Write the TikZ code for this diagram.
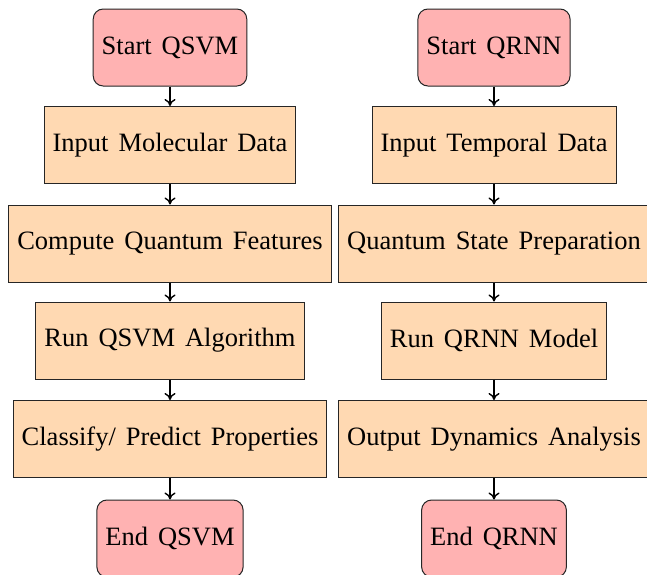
\documentclass[tikz,border=0pt]{standalone}
\usepackage{fontspec}
\setmainfont{Liberation Serif}[WordSpace=1.5]
\usetikzlibrary{arrows.meta}
\tikzset{
  termbox/.style={draw=black!85, line width=1pt, fill=red!30, rounded corners=10pt,
    minimum height=77pt, inner xsep=8.5pt, font=\fontsize{26.5}{30}\selectfont},
  procbox/.style={draw=black!85, line width=1pt, fill=orange!30,
    minimum height=77pt, inner xsep=8.5pt, font=\fontsize{26.5}{30}\selectfont},
  flow/.style={line width=1.4pt, -{To[length=7pt,width=11pt]}}
}
\begin{document}
\begin{tikzpicture}[x=1pt,y=-1pt]
\useasboundingbox (0,0) rectangle (647,574);
% left column
\node[termbox] (s1) at (170,47.5) {Start QSVM};
\node[procbox] (a1) at (170,145) {Input Molecular Data};
\node[procbox] (a2) at (170,243.5) {Compute Quantum Features};
\node[procbox] (a3) at (170,340.5) {Run QSVM Algorithm};
\node[procbox] (a4) at (170,439) {Classify/ Predict Properties};
\node[termbox] (e1) at (170,538.5) {End QSVM};
% right column
\node[termbox] (s2) at (494,47.5) {Start QRNN};
\node[procbox] (b1) at (494,145) {Input Temporal Data};
\node[procbox] (b2) at (494,243.5) {Quantum State Preparation};
\node[procbox] (b3) at (494,340.5) {Run QRNN Model};
\node[procbox] (b4) at (494,439) {Output Dynamics Analysis};
\node[termbox] (e2) at (494,538.5) {End QRNN};
\foreach \p/\q in {s1/a1,a1/a2,a2/a3,a3/a4,a4/e1,s2/b1,b1/b2,b2/b3,b3/b4,b4/e2}
  \draw[flow] (\p.south) -- (\q.north);
\end{tikzpicture}
\end{document}
